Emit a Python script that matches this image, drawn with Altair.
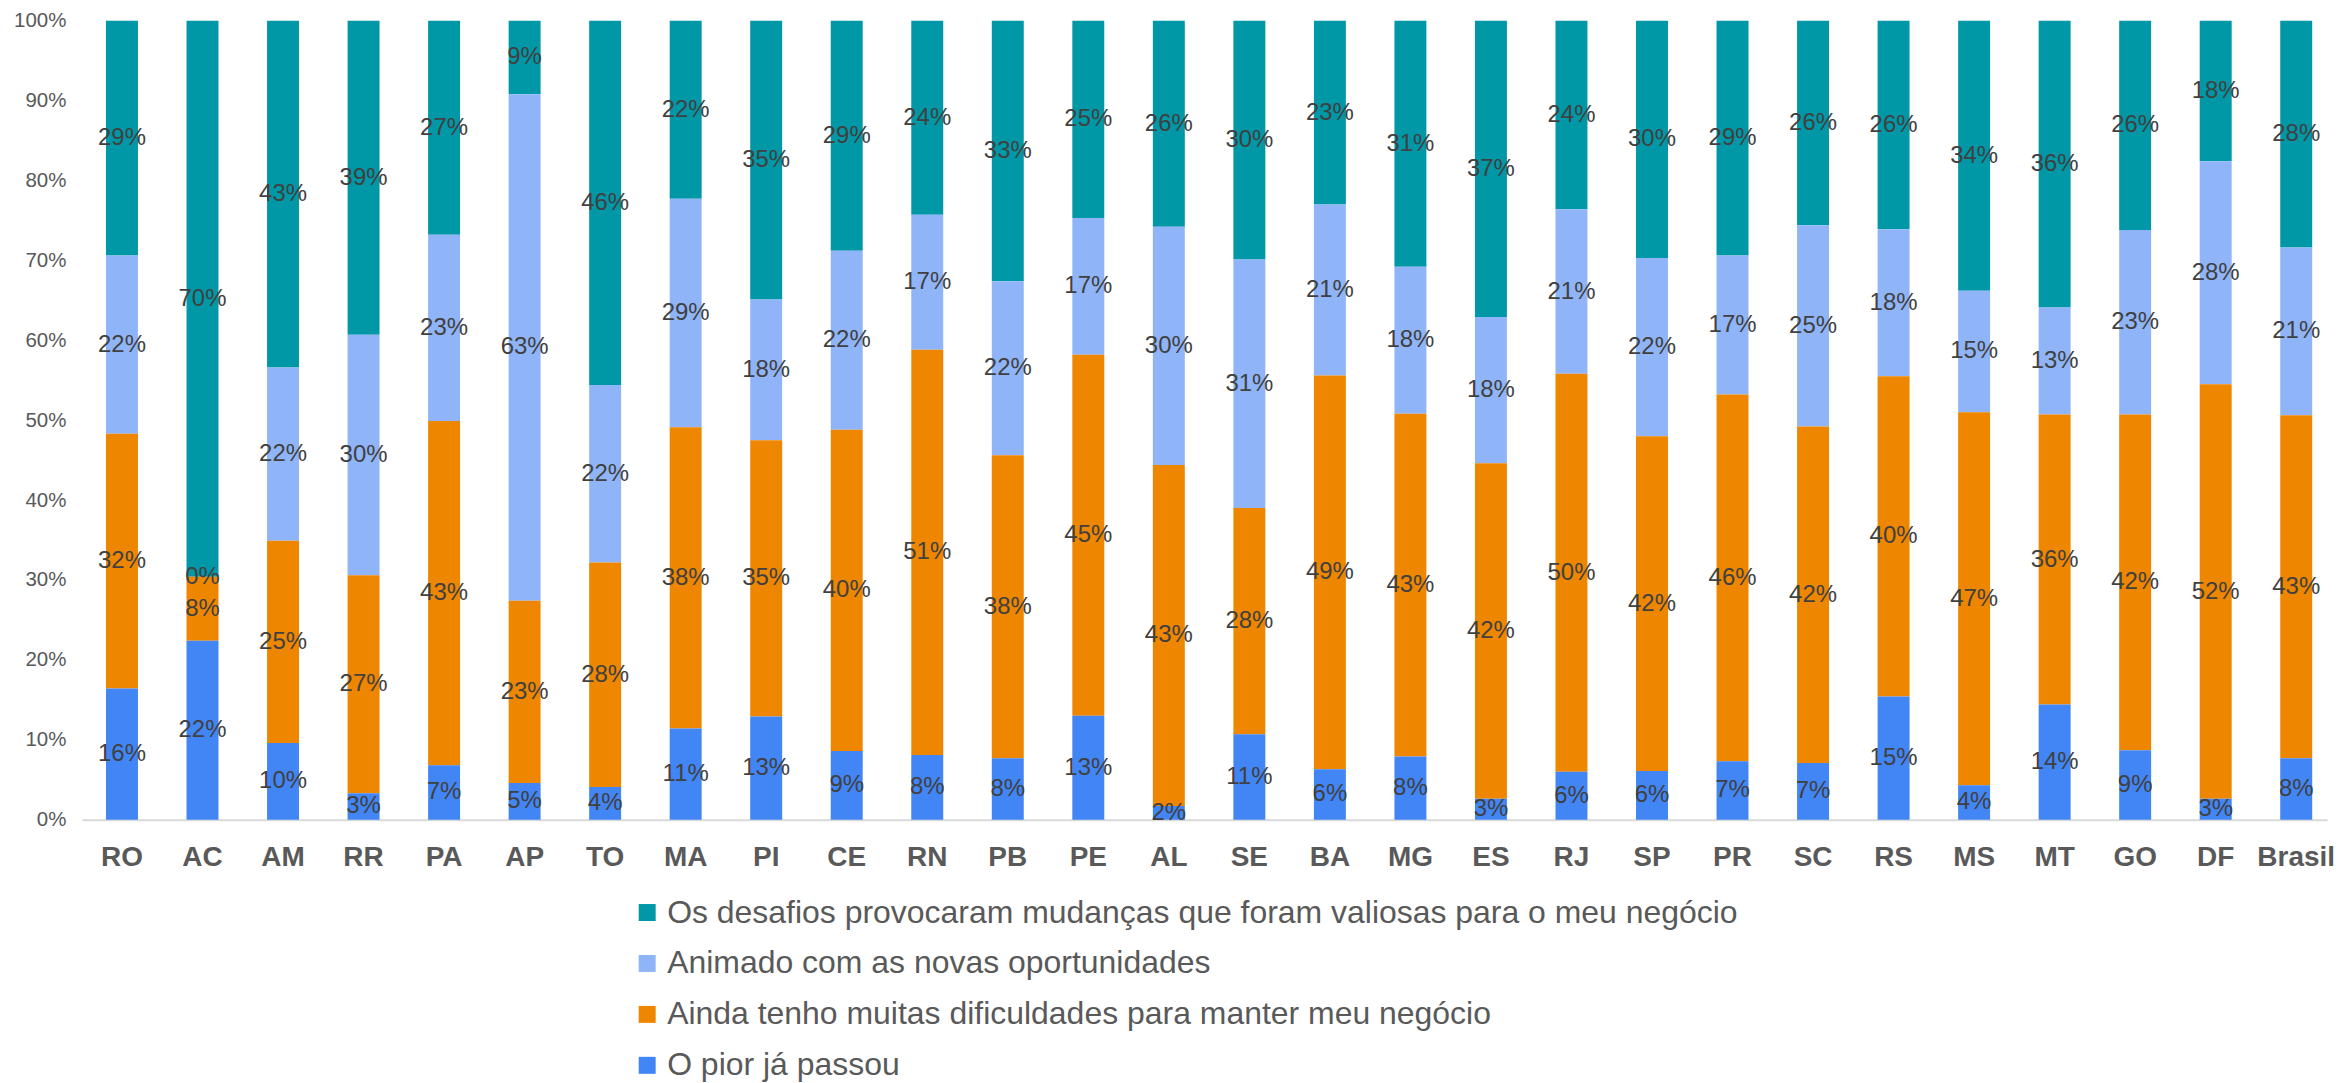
import altair as alt
import pandas as pd

states = ["RO", "AC", "AM", "RR", "PA", "AP", "TO", "MA", "PI", "CE", "RN", "PB", "PE", "AL",
          "SE", "BA", "MG", "ES", "RJ", "SP", "PR", "SC", "RS", "MS", "MT", "GO", "DF", "Brasil"]

series_names = [
    "Os desafios provocaram mudanças que foram valiosas para o meu negócio",
    "Animado com as novas oportunidades",
    "Ainda tenho muitas dificuldades para manter meu negócio",
    "O pior já passou",
]
series_colors = ["#0097A6", "#8FB5F8", "#EE8600", "#4285F4"]

# values in percent, per state (same order as states)
pior = [16.4, 22.4, 9.6, 3.3, 6.8, 4.6, 4.1, 11.4, 12.9, 8.6, 8.1, 7.7, 13.0, 1.7,
        10.7, 6.3, 7.9, 2.6, 6.0, 6.1, 7.3, 7.1, 15.4, 4.3, 14.4, 8.7, 2.6, 7.7]
dificuldades = [31.9, 8.0, 25.3, 27.3, 43.1, 22.8, 28.1, 37.7, 34.6, 40.2, 50.7, 37.9, 45.2, 42.7,
                28.3, 49.3, 42.9, 42.0, 49.8, 41.9, 45.9, 42.1, 40.1, 46.7, 36.3, 42.0, 51.9, 42.9]
animado = [22.3, 0.0, 21.7, 30.1, 23.3, 63.4, 22.2, 28.6, 17.6, 22.4, 16.9, 21.8, 17.1, 29.8,
           31.1, 21.4, 18.4, 18.3, 20.6, 22.3, 17.4, 25.2, 18.4, 15.2, 13.4, 23.1, 27.9, 21.0]
desafios = [29.4, 69.6, 43.4, 39.3, 26.8, 9.2, 45.6, 22.3, 34.9, 28.8, 24.3, 32.6, 24.7, 25.8,
            29.9, 23.0, 30.8, 37.1, 23.6, 29.7, 29.4, 25.6, 26.1, 33.8, 35.9, 26.2, 17.6, 28.4]

series_values = [desafios, animado, dificuldades, pior]
stack_rank = [3, 2, 1, 0]  # 0 = bottom of the stack

rows = []
for name, vals, rank in zip(series_names, series_values, stack_rank):
    for st, v in zip(states, vals):
        rows.append({"state": st, "series": name, "value": v, "ord": rank,
                     "label": f"{round(v)}%"})
df = pd.DataFrame(rows)

FONT = "Liberation Sans"

base = alt.Chart(df).transform_stack(
    stack="value",
    as_=["y0", "y1"],
    groupby=["state"],
    sort=[alt.SortField("ord", order="ascending")],
    offset="normalize",
).transform_calculate(mid="(datum.y0 + datum.y1) / 2")

x_scale = alt.Scale(paddingInner=0.6, paddingOuter=0.24, align=0.62)

x_enc = alt.X(
    "state:N",
    sort=states,
    scale=x_scale,
    axis=alt.Axis(
        title=None,
        labelAngle=0,
        labelFontSize=28,
        labelFontWeight="bold",
        labelColor="#595959",
        labelPadding=24,
        ticks=False,
        tickSize=0,
        domainColor="#D9D9D9",
        domainWidth=2,
    ),
)

bars = base.mark_bar(size=32).encode(
    x=x_enc,
    y=alt.Y(
        "y0:Q",
        scale=alt.Scale(domain=[0, 1], nice=False),
        axis=alt.Axis(
            title=None,
            format=".0%",
            values=[0, 0.1, 0.2, 0.3, 0.4, 0.5, 0.6, 0.7, 0.8, 0.9, 1.0],
            grid=False,
            domain=False,
            ticks=False,
            tickSize=0,
            labelFontSize=20.5,
            labelColor="#595959",
            labelPadding=16,
        ),
    ),
    y2="y1:Q",
    color=alt.Color(
        "series:N",
        scale=alt.Scale(domain=series_names, range=series_colors),
        legend=alt.Legend(
            title=None,
            orient="none",
            legendX=550,
            legendY=877,
            direction="vertical",
            symbolType="square",
            symbolSize=289,
            symbolStrokeWidth=0,
            labelFontSize=32,
            labelColor="#595959",
            labelLimit=2000,
            labelOffset=4,
            rowPadding=19,
            padding=0,
        ),
    ),
)

labels = base.mark_text(fontSize=24, color="#404040", align="center", baseline="middle").encode(
    x=alt.X("state:N", sort=states),
    y=alt.Y("mid:Q"),
    text="label:N",
)

chart = (
    alt.layer(bars, labels)
    .properties(width=2248, height=800, padding={"left": 5, "top": 2, "right": 0, "bottom": 0})
    .configure(font=FONT)
    .configure_view(stroke=None)
)

chart.save("out.html", embed_options={"renderer": "svg", "actions": False})
